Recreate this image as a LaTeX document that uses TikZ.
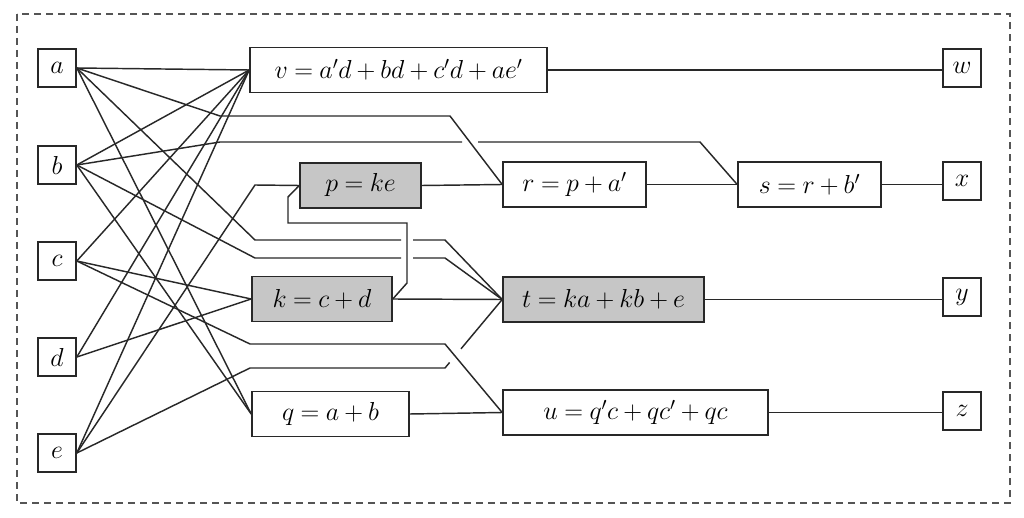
\RequirePackage{fix-cm}
\documentclass[tikz,border=0pt]{standalone}
\usetikzlibrary{calc}
\definecolor{linec}{RGB}{40,40,40}
\definecolor{boxgray}{RGB}{198,198,198}
\definecolor{borderc}{RGB}{85,85,85}
\newcommand{\eqfont}{\fontsize{26}{31}\selectfont\medmuskip=3.5mu\thickmuskip=4.5mu}
\tikzset{
  io/.style={draw=linec, line width=1.6pt, minimum width=38pt, minimum height=38pt, inner sep=0pt, font=\eqfont},
  opbox/.style={draw=linec, line width=1.6pt, minimum height=45pt, inner sep=0pt, font=\eqfont},
  graybox/.style={opbox, fill=boxgray},
  wire/.style={draw=linec, line width=1.45pt},
  frame/.style={draw=borderc, line width=1.1pt, dash pattern=on 7pt off 5pt}
}
\begin{document}
\begin{tikzpicture}[x=1pt,y=-1pt]
\useasboundingbox (0,0) rectangle (1024,518);
\fill[white] (0,0) rectangle (1024,518);
\draw[frame] (17,14) rectangle (1010,503);

% inputs
\node[io] (a) at (57,68) {$a$};
\node[io] (b) at (57,165) {$b$};
\node[io] (c) at (57,261) {$c$};
\node[io] (d) at (57,357) {$d$};
\node[io] (e) at (57,453) {$e$};
% outputs
\node[io] (w) at (962,68) {$w$};
\node[io] (x) at (962,181) {$x$};
\node[io] (y) at (962,297) {$y$};
\node[io] (z) at (962,411) {$z$};
% operations
\node[opbox, minimum width=297pt] (v) at (398.5,70) {$v=a'd+bd+c'd+ae'$};
\node[graybox, minimum width=121pt] (p) at (360.5,185.5) {$p=ke$};
\node[opbox, minimum width=143pt] (r) at (574.5,184.5) {$r=p+a'$};
\node[opbox, minimum width=143pt] (s) at (809.5,184.5) {$s=r+b'$};
\node[graybox, minimum width=140pt] (k) at (322,299) {$k=c+d$};
\node[graybox, minimum width=201pt] (t) at (603.5,299.5) {$t=ka+kb+e$};
\node[opbox, minimum width=157pt] (q) at (330.5,414) {$q=a+b$};
\node[opbox, minimum width=265pt] (u) at (635.5,412.5) {$u=q'c+qc'+qc$\hspace{24pt}};

% bend points
\coordinate (ar1) at (220,116);
\coordinate (ar2) at (450,116);
\coordinate (bs1) at (220,142);
\coordinate (bsg1) at (462,142);
\coordinate (bsg2) at (478,142);
\coordinate (bs2) at (700,142);
\coordinate (at1) at (255,240);
\coordinate (atg1) at (401,240);
\coordinate (atg2) at (413,240);
\coordinate (at2) at (445,240);
\coordinate (bt1) at (255,258);
\coordinate (btg1) at (401,258);
\coordinate (btg2) at (413,258);
\coordinate (bt2) at (445,258);
\coordinate (cu1) at (250,344);
\coordinate (cu2) at (445,344);
\coordinate (ep1) at (255,185);
\coordinate (et1) at (250,368);
\coordinate (et2) at (445,368);
\coordinate (kp1) at (407,283);
\coordinate (kp2) at (407,223);
\coordinate (kp3) at (288,223);
\coordinate (kp4) at (288,197);

% inputs to v
\foreach \i in {a,b,c,d,e} \draw[wire] (\i.east) -- (v.west);
% a' to r
\draw[wire] (a.east) -- (ar1) -- (ar2) -- (r.west);
% b' to s (gap at crossing)
\draw[wire] (b.east) -- (bs1) -- (bsg1) (bsg2) -- (bs2) -- (s.west);
% a, b to t (gaps at crossing)
\draw[wire] (a.east) -- (at1) -- (atg1) (atg2) -- (at2) -- (t.west);
\draw[wire] (b.east) -- (bt1) -- (btg1) (btg2) -- (bt2) -- (t.west);
% a, b to q
\draw[wire] (a.east) -- (q.west);
\draw[wire] (b.east) -- (q.west);
% c, d to k
\draw[wire] (c.east) -- (k.west);
\draw[wire] (d.east) -- (k.west);
% c to u
\draw[wire] (c.east) -- (cu1) -- (cu2) -- (u.west);
% e to p
\draw[wire] (e.east) -- (ep1) -- (p.west);
% e to t (gap at crossing)
\draw[wire] (e.east) -- (et1) -- (et2) -- ($(et2)!0.08!(t.west)$)
  ($(et2)!0.28!(t.west)$) -- (t.west);
% k to p
\draw[wire] (k.east) -- (kp1) -- (kp2) -- (kp3) -- (kp4) -- (p.west);
% k to t
\draw[wire] (k.east) -- (t.west);
% chain
\draw[wire] (p.east) -- (r.west);
\draw[wire] (r.east) -- (s.west);
\draw[wire] (q.east) -- (u.west);
% outputs
\draw[wire] (v.east) -- (v.east -| w.west);
\draw[wire] (s.east) -- (s.east -| x.west);
\draw[wire] (t.east) -- (t.east -| y.west);
\draw[wire] (u.east) -- (u.east -| z.west);
\end{tikzpicture}
\end{document}
